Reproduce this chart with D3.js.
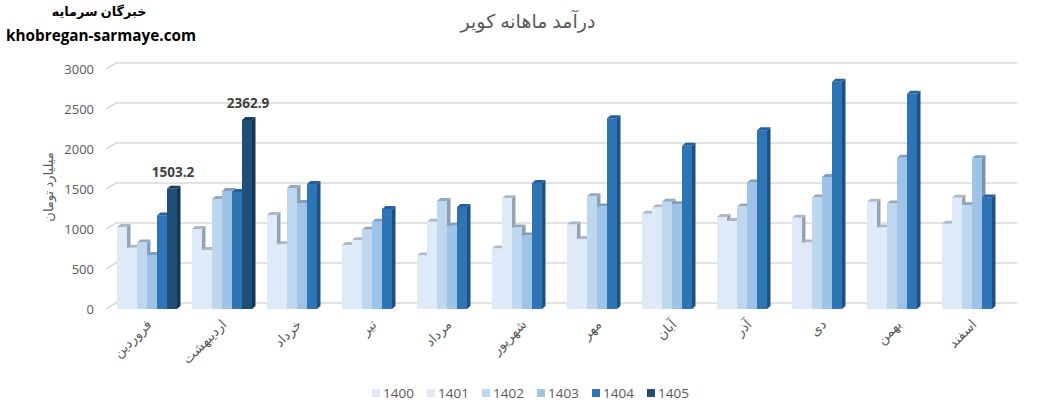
<!DOCTYPE html>
<html>
<head>
<meta charset="utf-8">
<script src="https://d3js.org/d3.v7.min.js"></script>
<style>
  html, body { margin: 0; padding: 0; background: #fff; }
  svg { display: block; }
  text { font-family: "Open Sans", "DejaVu Sans", sans-serif; }
</style>
</head>
<body>
<div id="chart"></div>
<script>
const months = ["فروردین", "اردیبهشت", "خرداد", "تیر", "مرداد", "شهریور", "مهر", "آبان", "آذر", "دی", "بهمن", "اسفند"];
const years = ["1400", "1401", "1402", "1403", "1404", "1405"];

const v1400 = [1025, 1000, 1175, 800, 670, 755, 1055, 1190, 1150, 1140, 1340, 1065];
const v1401 = [766, 737, 810, 860, 1090, 1385, 875, 1270, 1100, 830, 1020, 1390];
const v1402 = [830, 1375, 1512, 990, 1350, 1020, 1410, 1340, 1280, 1395, 1320, 1300];
const v1403 = [675, 1475, 1325, 1090, 1040, 920, 1280, 1310, 1580, 1650, 1890, 1885];
const v1404 = [1170, 1462, 1562, 1250, 1275, 1575, 2385, 2040, 2235, 2840, 2690, 1395];
const v1405 = [1503.2, 2362.9, null, null, null, null, null, null, null, null, null, null];
const seriesValues = [v1400, v1401, v1402, v1403, v1404, v1405];

const yTicks = [0, 500, 1000, 1500, 2000, 2500, 3000];

const frontColors = ["#deeaf8", "#deeaf8", "#bdd7ee", "#9dc3e6", "#2e75b6", "#1f4e79"];
const sideColors = ["#94a2b2", "#94a2b2", "#8a9fb2", "#7595b3", "#1f5084", "#143551"];
const topColors = ["#adb8c5", "#adb8c5", "#95a9bd", "#7f9fbd", "#25609a", "#173c5c"];
const legendColors = ["#dfe9f6", "#deeaf5", "#bdd7ee", "#9dc3e6", "#2e75b6", "#1f4e79"];

const width = 1045, height = 412;
const arabicFont = '"DejaVu Sans", sans-serif';

const svg = d3.select("#chart").append("svg")
  .attr("width", width)
  .attr("height", height);

const y = d3.scaleLinear().domain([0, 3000]).range([309, 69]);
const xGroup = d3.scaleBand().domain(months).range([109.5, 1009.5]).paddingInner(0.2).paddingOuter(0.1);
const xBar = d3.scaleBand().domain(years).range([0, xGroup.bandwidth()]);

// depth of the back wall and of the bars
const wallDx = 10, wallDy = -6;
const barDx = 3.5, barDy = -3;

// gridlines on the back wall + little diagonals to the labels
const grid = svg.append("g").attr("stroke", "#d9d9d9").attr("stroke-width", 1.5).attr("fill", "none");
grid.selectAll("path")
  .data(yTicks)
  .join("path")
  .attr("d", d => `M${106},${y(d)}L${106 + wallDx},${y(d) + wallDy}H1017`);

const yAxis = d3.axisLeft(y).tickValues(yTicks).tickSize(0).tickPadding(0).tickFormat(d3.format("d"));
svg.append("g")
  .attr("transform", "translate(94,0)")
  .call(yAxis)
  .call(g => g.select(".domain").remove())
  .call(g => g.selectAll("text")
    .attr("font-family", '"Open Sans", sans-serif')
    .attr("font-size", 13)
    .attr("fill", "#595959"));

// bars, left to right so each front hides the side of the one before
seriesValues.forEach((values, s) => {
  const g = svg.append("g").attr("class", "series");
  const data = months.map((m, i) => ({ m: m, v: values[i] })).filter(d => d.v !== null);
  const left = d => xGroup(d.m) + xBar(years[s]);
  const w = xBar.bandwidth();

  g.selectAll(".side").data(data).join("path")
    .attr("class", "side")
    .attr("fill", sideColors[s])
    .attr("d", d => `M${left(d) + w},${y(d.v)}l${barDx},${barDy}V${y(0) + barDy}l${-barDx},${-barDy}Z`);
  g.selectAll(".top").data(data).join("path")
    .attr("class", "top")
    .attr("fill", topColors[s])
    .attr("d", d => `M${left(d)},${y(d.v)}l${barDx},${barDy}h${w}l${-barDx},${-barDy}Z`);
  g.selectAll(".front").data(data).join("rect")
    .attr("class", "front")
    .attr("fill", frontColors[s])
    .attr("x", left)
    .attr("y", d => y(d.v))
    .attr("width", w)
    .attr("height", d => y(0) - y(d.v));
});

// data labels, only the last year has them
svg.append("g").selectAll("text")
  .data(months.map((m, i) => ({ m: m, v: v1405[i] })).filter(d => d.v !== null))
  .join("text")
  .attr("x", d => xGroup(d.m) + xBar("1405") + xBar.bandwidth() / 2 + 1)
  .attr("y", d => y(d.v) - 12)
  .attr("text-anchor", "middle")
  .attr("font-size", 13.5)
  .attr("font-weight", 700)
  .attr("fill", "#404040")
  .text(d => d.v.toFixed(1));

// month labels
svg.append("g").selectAll("text")
  .data(months)
  .join("text")
  .attr("transform", d => `translate(${xGroup(d) + xGroup.bandwidth() / 2 + 2},322) rotate(-45)`)
  .attr("text-anchor", "end")
  .attr("dy", "0.35em")
  .attr("font-family", arabicFont)
  .attr("font-size", 13.5)
  .attr("fill", "#595959")
  .text(d => d);

// legend
const legendX = d3.scalePoint().domain(years).range([372, 647]);
const legend = svg.append("g").selectAll("g")
  .data(years)
  .join("g")
  .attr("transform", d => `translate(${legendX(d)},389)`);
legend.append("rect")
  .attr("width", 8)
  .attr("height", 8)
  .attr("fill", (d, i) => legendColors[i]);
legend.append("text")
  .attr("x", 11)
  .attr("y", 9)
  .attr("font-size", 13.5)
  .attr("fill", "#595959")
  .text(d => d);

// titles
svg.append("text")
  .attr("x", 528).attr("y", 28)
  .attr("text-anchor", "middle")
  .attr("font-family", arabicFont)
  .attr("font-size", 19)
  .attr("fill", "#595959")
  .text("درآمد ماهانه کویر");

svg.append("text")
  .attr("transform", "translate(53,187) rotate(-90)")
  .attr("text-anchor", "middle")
  .attr("font-family", arabicFont)
  .attr("font-size", 13)
  .attr("fill", "#595959")
  .text("میلیارد تومان");

svg.append("text")
  .attr("x", 99).attr("y", 16)
  .attr("text-anchor", "middle")
  .attr("font-family", arabicFont)
  .attr("font-size", 12.8)
  .attr("font-weight", 700)
  .attr("fill", "#000")
  .text("خبرگان سرمایه");

svg.append("text")
  .attr("x", 6).attr("y", 41)
  .attr("font-family", '"Open Sans", sans-serif')
  .attr("font-size", 15.3)
  .attr("font-weight", 700)
  .attr("fill", "#000")
  .text("khobregan-sarmaye.com");
</script>
</body>
</html>
